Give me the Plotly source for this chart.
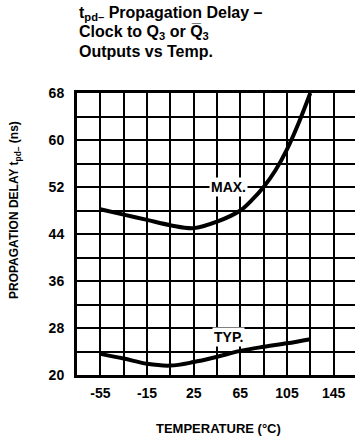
import plotly.graph_objects as go

# ---- data ----
max_temp = [-55, -35, -15, 5, 25, 45, 65, 75, 85, 95, 105, 115, 125]
max_delay = [48.2, 47.3, 46.4, 45.5, 45.0, 46.1, 48.0, 49.8, 52.0, 54.8, 58.4, 62.9, 68.0]

typ_temp = [-55, -35, -15, 5, 25, 45, 65, 85, 105, 125]
typ_delay = [23.6, 22.8, 21.9, 21.6, 22.2, 23.1, 24.1, 24.8, 25.4, 26.1]

x_tickvals = [-55, -15, 25, 65, 105, 145]
x_ticktext = ["-55", "-15", "25", "65", "105", "145"]
y_tickvals = [20, 28, 36, 44, 52, 60, 68]
y_ticktext = ["20", "28", "36", "44", "52", "60", "68"]

label_max = ("MAX.", 55, 52)
label_typ = ("TYP.", 55, 26.4)

SANS = "Liberation Sans, Arial, Helvetica, sans-serif"

fig = go.Figure()
fig.add_trace(go.Scatter(x=max_temp, y=max_delay, mode="lines",
                         line=dict(color="black", width=4, shape="spline", smoothing=1.0),
                         showlegend=False, hoverinfo="skip"))
fig.add_trace(go.Scatter(x=typ_temp, y=typ_delay, mode="lines",
                         line=dict(color="black", width=4, shape="spline", smoothing=1.0),
                         showlegend=False, hoverinfo="skip"))

for txt, lx, ly in (label_max, label_typ):
    fig.add_annotation(x=lx, y=ly, text="<b>%s</b>" % txt, showarrow=False,
                       xref="x", yref="y", bgcolor="white", borderpad=1,
                       font=dict(family=SANS, size=14, color="black"))

title_lines = [
    "<b>t<sub>pd\u2013</sub> Propagation Delay \u2013</b>",
    "<b>Clock to Q<sub>3</sub> or Q\u0305<sub>3</sub></b>",
    "<b>Outputs vs Temp.</b>",
]
title_y_px = [13, 32.5, 51.5]
for line, ypx in zip(title_lines, title_y_px):
    fig.add_annotation(x=0, y=(375 - ypx) / 282, xref="paper", yref="paper",
                       xanchor="left", yanchor="middle", showarrow=False,
                       text=line, align="left",
                       font=dict(family=SANS, size=16, color="black"))

fig.add_annotation(x=(15 - 77) / 278, y=(375 - 210) / 282, xref="paper", yref="paper",
                   text="<b>PROPAGATION DELAY t<sub>pd\u2013</sub> (ns)</b>",
                   textangle=-90, showarrow=False, xanchor="center", yanchor="middle",
                   font=dict(family=SANS, size=12, color="black"))
fig.add_annotation(x=(218 - 77) / 278, y=(375 - 428) / 282, xref="paper", yref="paper",
                   text="<b>TEMPERATURE (\u00b0C)</b>", showarrow=False,
                   xanchor="center", yanchor="middle",
                   font=dict(family=SANS, size=13, color="black"))

fig.update_xaxes(range=[-75, 163.3], tickvals=x_tickvals, ticktext=x_ticktext,
                 showgrid=True, gridcolor="black", gridwidth=1.5,
                 minor=dict(tick0=-55, dtick=20, showgrid=True, gridcolor="black",
                            gridwidth=1.5, ticks=""),
                 showline=True, linecolor="black", linewidth=3, mirror=True,
                 zeroline=False, ticks="", ticklabelstandoff=3,
                 tickfont=dict(family=SANS, size=14, color="black", weight="bold"))
fig.update_yaxes(range=[20, 68], tickvals=y_tickvals, ticktext=y_ticktext,
                 showgrid=True, gridcolor="black", gridwidth=1.5,
                 minor=dict(tick0=20, dtick=4, showgrid=True, gridcolor="black",
                            gridwidth=1.5, ticks=""),
                 showline=True, linecolor="black", linewidth=3, mirror=False,
                 zeroline=False, ticks="", ticklabelstandoff=7,
                 tickfont=dict(family=SANS, size=14, color="black", weight="bold"))

fig.update_layout(width=355, height=445, margin=dict(l=77, r=0, t=93, b=70),
                  paper_bgcolor="white", plot_bgcolor="white")

fig.write_html("out.html")
